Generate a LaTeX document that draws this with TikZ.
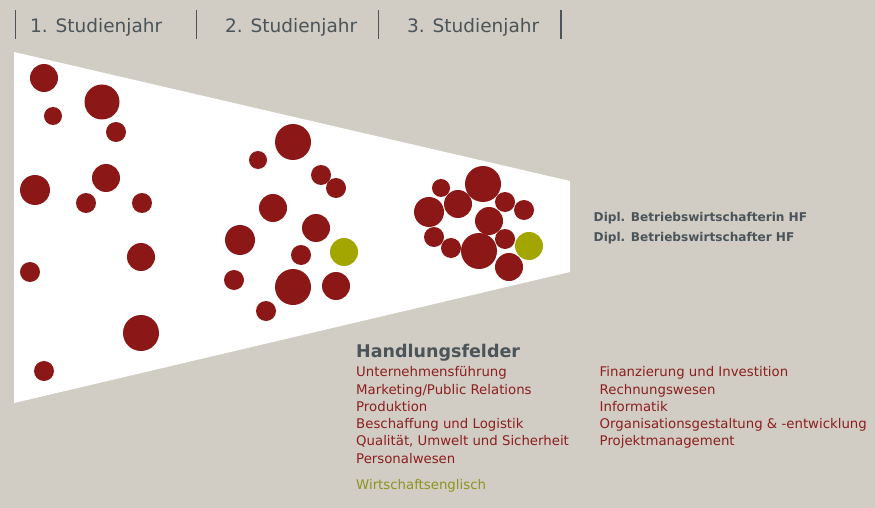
\documentclass[tikz,border=0pt]{standalone}
\usepackage{fontspec}
\setmainfont{DejaVu Sans}
\usepackage{tikz}
\usetikzlibrary{positioning}
\definecolor{mbeige}{rgb}{0.82, 0.80, 0.77}
\definecolor{mred}{rgb}{0.55, 0.09, 0.09}
\definecolor{mgreen}{rgb}{0.64, 0.65, 0.0}
\definecolor{mgray}{rgb}{0.29, 0.33, 0.35}
\definecolor{mtextred}{rgb}{0.55, 0.12, 0.12}
\definecolor{mtextgreen}{rgb}{0.55, 0.58, 0.12}

\tikzset{
  yearlabel/.style={anchor=base west, inner sep=0pt, text=mgray, font=\fontsize{18.5}{22}\selectfont},
  degree/.style={anchor=base west, inner sep=0pt, text=mgray, font=\fontsize{12.1}{14}\selectfont\bfseries},
  field/.style={anchor=base west, inner sep=0pt, text=mtextred, font=\fontsize{13.3}{16}\selectfont},
}

\begin{document}
\begin{tikzpicture}[x=1pt, y=-1pt]
    \fill [mbeige] (0, 0) rectangle (875, 508);
    \useasboundingbox (0, 0) rectangle (875, 508);

    % year separators
    \foreach \x in {15.5, 196.5, 378.5, 561}
      \draw [mgray, line width=1.5pt] (\x, 10) -- (\x, 39);

    \node [yearlabel] (year1) at (30, 32.6) {1. Studienjahr};
    \node [yearlabel] (year2) at (225, 32.6) {2. Studienjahr};
    \node [yearlabel] (year3) at (407, 32.6) {3. Studienjahr};

    % funnel
    \fill [white] (14, 52) -- (570, 181) -- (570, 272) -- (14, 403) -- cycle;

    % first year
    \foreach \x/\y/\r in {44/78/14, 53/116/9, 102/102/17.5, 116/132/10, 35/190/15, 106/178/14,
                          86/203/10, 142/203/10, 141/257/14, 30/272/10, 141/333/18, 44/371/10}
      \fill [mred] (\x, \y) circle (\r);

    % second year
    \foreach \x/\y/\r in {293/142/18, 258/160/9, 321/175/10, 336/188/10, 273/208/14, 316/228/14,
                          240/240/15, 301/255/10, 234/280/10, 293/287/18, 336/286/14, 266/311/10}
      \fill [mred] (\x, \y) circle (\r);
    \fill [mgreen] (344, 252) circle (14);

    % third year
    \foreach \x/\y/\r in {441/188/9, 483/184/18, 458/204/14, 429/212/15, 505/202/10, 524/210/10,
                          489/221/14, 434/237/10, 451/248/10, 479/251/18, 505/239/10, 509/267/14}
      \fill [mred] (\x, \y) circle (\r);
    \fill [mgreen] (529, 246) circle (14);

    \node [degree] (degreef) at (593.5, 221) {Dipl. Betriebswirtschafterin HF};
    \node [degree] (degreem) at (593.5, 241.5) {Dipl. Betriebswirtschafter HF};

    \node [anchor=base west, inner sep=0pt, text=mgray, font=\fontsize{17.5}{20}\selectfont\bfseries]
      (fields) at (356, 357.7) {Handlungsfelder};

    \foreach \t [count=\i] in {Unternehmensführung, Marketing/Public Relations, Produktion,
                               Beschaffung und Logistik, {Qualität, Umwelt und Sicherheit}, Personalwesen}
      \node [field] (fieldl\i) at (356, 359.4 + 17.3*\i) {\t};

    \foreach \t [count=\i] in {Finanzierung und Investition, Rechnungswesen, Informatik,
                               Organisationsgestaltung \& -entwicklung, Projektmanagement}
      \node [field] (fieldr\i) at (599.5, 359.4 + 17.3*\i) {\t};

    \node [field, text=mtextgreen] (english) at (356, 489.3) {Wirtschaftsenglisch};
  \end{tikzpicture}
\end{document}
